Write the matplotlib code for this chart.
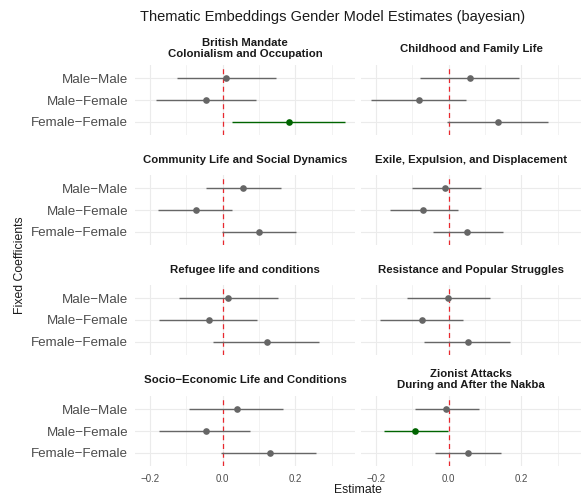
import matplotlib
matplotlib.use("Agg")
import matplotlib.pyplot as plt
import numpy as np

# facets, in reading order (left-right, top-bottom)
themes = [
    "British Mandate\nColonialism and Occupation",
    "Childhood and Family Life",
    "Community Life and Social Dynamics",
    "Exile, Expulsion, and Displacement",
    "Refugee life and conditions",
    "Resistance and Popular Struggles",
    "Socio\u2212Economic Life and Conditions",
    "Zionist Attacks\nDuring and After the Nakba",
]
coefs = ["Male\u2212Male", "Male\u2212Female", "Female\u2212Female"]

# estimates and 95% intervals, one value per theme
mm_est = [0.009, 0.058, 0.057, -0.010, 0.016, -0.001, 0.039, -0.007]
mm_lo = [-0.127, -0.078, -0.045, -0.102, -0.121, -0.116, -0.094, -0.094]
mm_hi = [0.146, 0.193, 0.162, 0.089, 0.153, 0.113, 0.165, 0.084]

mf_est = [-0.045, -0.083, -0.074, -0.072, -0.038, -0.073, -0.047, -0.094]
mf_lo = [-0.185, -0.214, -0.177, -0.163, -0.175, -0.188, -0.176, -0.179]
mf_hi = [0.091, 0.049, 0.027, 0.025, 0.094, 0.039, 0.074, -0.003]

ff_est = [0.182, 0.135, 0.101, 0.050, 0.121, 0.052, 0.130, 0.052]
ff_lo = [0.025, -0.005, -0.002, -0.044, -0.027, -0.067, -0.004, -0.039]
ff_hi = [0.337, 0.275, 0.203, 0.149, 0.264, 0.170, 0.258, 0.144]

W, H = 582, 498
fig = plt.figure(figsize=(W / 100, H / 100), dpi=100)
plt.rcParams['font.family'] = ['Liberation Sans', 'DejaVu Sans']

grey = "#666666"
green = "#006400"
gridc = "#ebebeb"

# x limits like ggplot: data range + 5%
allv = np.array(mm_lo + mm_hi + mf_lo + mf_hi + ff_lo + ff_hi)
pad = (allv.max() - allv.min()) * 0.05
xlim = (allv.min() - pad, allv.max() + pad)

col_x = [135, 361]
pw, ph = 220, 70
row_top = [65, 175, 285, 396]
strip_off = [16.5, 15, 15, 16.5]


def fx(px):
    return px / W


def fy(py):
    return 1 - py / H


for i, theme in enumerate(themes):
    r, c = divmod(i, 2)
    x0 = col_x[c]
    y0 = row_top[r]
    ax = fig.add_axes([fx(x0), fy(y0 + ph), pw / W, ph / H])

    est = [mm_est[i], mf_est[i], ff_est[i]]
    lo = [mm_lo[i], mf_lo[i], ff_lo[i]]
    hi = [mm_hi[i], mf_hi[i], ff_hi[i]]
    ypos = [3, 2, 1]

    ax.axvline(0, color="#e8282e", lw=0.9, ls=(0, (4, 3)), zorder=2)
    for e, l, h, y in zip(est, lo, hi, ypos):
        col = green if (l > 0 or h < 0) else grey
        ax.plot([l, h], [y, y], color=col, lw=1.0, zorder=3,
                solid_capstyle='butt')
        ax.plot(e, y, 'o', color=col, ms=4.8, mec='none', zorder=4)

    ax.set_xlim(xlim)
    ax.set_ylim(0.4, 3.6)
    ax.set_xticks([-0.2, 0.0, 0.2])
    ax.set_xticks([-0.1, 0.1, 0.3], minor=True)
    ax.set_yticks(ypos)
    ax.grid(True, which='major', color=gridc, lw=0.8)
    ax.grid(True, which='minor', axis='x', color=gridc, lw=0.45)
    ax.set_axisbelow(True)
    for s in ax.spines.values():
        s.set_visible(False)
    ax.tick_params(which='both', length=0)
    ax.tick_params(axis='x', labelsize=7, labelcolor="#4d4d4d", pad=6)
    ax.tick_params(axis='y', labelsize=9.6, labelcolor="#4d4d4d", pad=5)
    if c == 0:
        ax.set_yticklabels(coefs)
    else:
        ax.set_yticklabels([])
    if r < 3:
        ax.set_xticklabels([])
    else:
        ax.set_xticklabels(["\u22120.2", "0.0", "0.2"])

    fig.text(fx(x0 + pw / 2), fy(y0 - strip_off[r]), theme, ha='center',
             va='center', fontsize=8.2, fontweight='bold', color="#1a1a1a",
             linespacing=1.05)

fig.text(fx(140), fy(17), "Thematic Embeddings Gender Model Estimates (bayesian)",
         ha='left', va='center', fontsize=10.5, color="#1a1a1a")
fig.text(fx((col_x[0] + col_x[1] + pw) / 2), fy(490), "Estimate",
         ha='center', va='center', fontsize=8.8, color="#1a1a1a")
fig.text(fx(20), fy(265), "Fixed Coefficients", rotation=90,
         ha='center', va='center', fontsize=8.8, color="#1a1a1a")

fig.savefig("out.png", dpi=100, facecolor='white')
